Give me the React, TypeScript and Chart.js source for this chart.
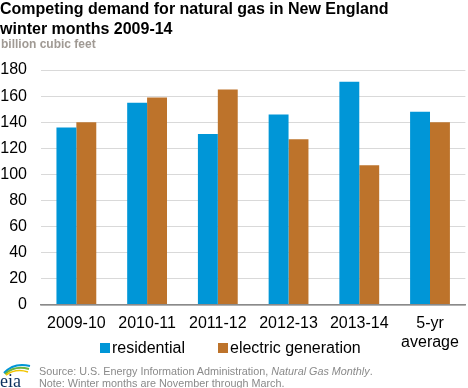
import React, { useEffect, useRef } from "react";
import { Chart, registerables } from "chart.js";

Chart.register(...registerables);

const categories: (string | string[])[] = ["2009-10", "2010-11", "2011-12", "2012-13", "2013-14", ["5-yr", "average"]];
const residential = [136, 155, 131, 146, 171, 148];
const electricGeneration = [140, 159, 165, 127, 107, 140];
const yTicks = [0, 20, 40, 60, 80, 100, 120, 140, 160, 180];

const BLUE = "#0096D7";
const BROWN = "#BD732B";
const FONT = "'Liberation Sans', Arial, sans-serif";

export default function App() {
  const ref = useRef<HTMLCanvasElement | null>(null);

  useEffect(() => {
    document.body.style.margin = "0";
    const ctx = ref.current!;
    const chart = new Chart(ctx, {
      type: "bar",
      data: {
        labels: categories,
        datasets: [
          { label: "residential", data: residential, backgroundColor: BLUE, categoryPercentage: 0.563, barPercentage: 1 },
          { label: "electric generation", data: electricGeneration, backgroundColor: BROWN, categoryPercentage: 0.563, barPercentage: 1 },
        ],
      },
      options: {
        animation: false,
        responsive: false,
        devicePixelRatio: 1,
        layout: { padding: { top: 70, bottom: 35, left: 0, right: 1 } },
        plugins: { legend: { display: false }, title: { display: false }, tooltip: { enabled: false } },
        scales: {
          x: {
            grid: { display: false, drawTicks: false },
            border: { display: true, color: "#8a8a8a", width: 1.5, z: 1 },
            ticks: { color: "#000", font: { family: FONT, size: 16, lineHeight: 1.2 }, padding: 9, maxRotation: 0, autoSkip: false },
            afterFit: (s: any) => { s.height = 48; },
          },
          y: {
            min: 0,
            max: 180,
            afterBuildTicks: (s: any) => { s.ticks = yTicks.map((v) => ({ value: v })); },
            grid: { color: "#d9d9d9", lineWidth: 1, drawTicks: false },
            border: { display: false },
            ticks: { color: "#000", font: { family: FONT, size: 16 }, padding: 14 },
            afterFit: (s: any) => { s.width = 41; },
          },
        },
      },
    });
    return () => chart.destroy();
  }, []);

  const abs = (o: React.CSSProperties): React.CSSProperties => ({ position: "absolute", whiteSpace: "nowrap", fontFamily: FONT, ...o });

  return (
    <div style={{ position: "fixed", left: 0, top: 0, width: 468, height: 388, background: "#fff", overflow: "hidden" }}>
      <canvas ref={ref} width={468} height={388} style={{ position: "absolute", left: 0, top: 0, width: 468, height: 388 }} />
      <div style={abs({ left: 0, top: -1.5, fontSize: 16, lineHeight: "20px", fontWeight: "bold", color: "#000" })}>
        Competing demand for natural gas in New England<br />winter months 2009-14
      </div>
      <div style={abs({ left: 1, top: 37, fontSize: 12, lineHeight: "14px", fontWeight: "bold", color: "#a09a94" })}>billion cubic feet</div>
      <div style={abs({ left: 100, top: 343, width: 10, height: 10, background: BLUE })} />
      <div style={abs({ left: 112, top: 338, fontSize: 16, lineHeight: "20px", color: "#000" })}>residential</div>
      <div style={abs({ left: 218, top: 343, width: 10, height: 10, background: BROWN })} />
      <div style={abs({ left: 230, top: 338, fontSize: 16, lineHeight: "20px", color: "#000" })}>electric generation</div>
      <div style={abs({ left: 39, top: 365, fontSize: 10.8, lineHeight: "12px", color: "#8a8a8a" })}>
        Source: U.S. Energy Information Administration, <i>Natural Gas Monthly</i>.<br />Note: Winter months are November through March.
      </div>
      <svg style={{ position: "absolute", left: 0, top: 358 }} width={34} height={30} viewBox="0 0 34 30">
        <path d="M4 15 Q14 4 30 8" stroke="#0096D7" strokeWidth={2} fill="none" />
        <path d="M5 16 Q15 7 29 11" stroke="#6CB33F" strokeWidth={2} fill="none" />
        <path d="M6 17 Q16 10 28 14" stroke="#F2C400" strokeWidth={1.6} fill="none" />
        <text x={0} y={29} fontFamily="'Liberation Serif', 'DejaVu Serif', serif" fontSize={18} fill="#0B2F5E">eia</text>
      </svg>
    </div>
  );
}
